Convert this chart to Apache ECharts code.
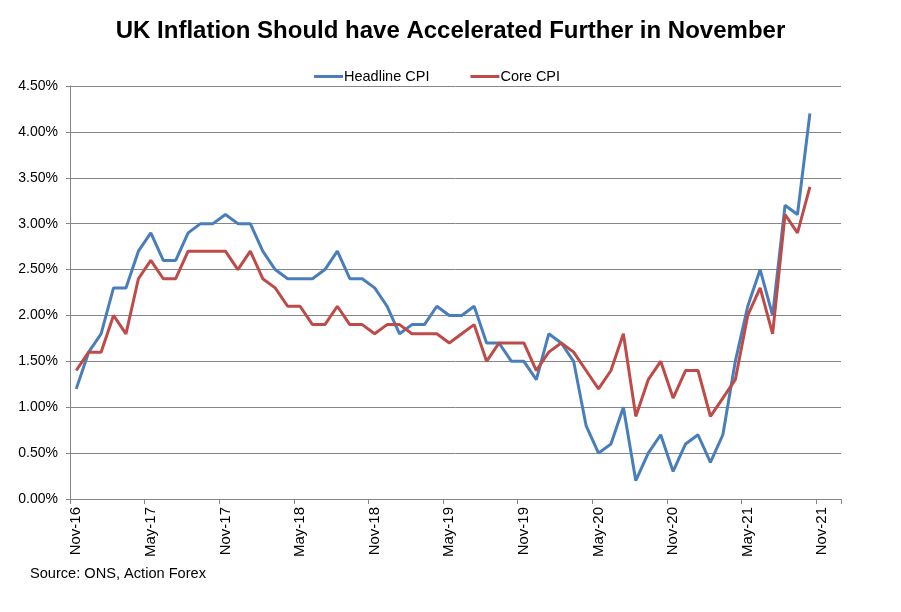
<!DOCTYPE html>
<html>
<head>
<meta charset="utf-8">
<script src="https://cdn.jsdelivr.net/npm/echarts@6/dist/echarts.min.js"></script>
<style>
html,body{margin:0;padding:0;background:#fff;}
#c{width:901px;height:612px;}
</style>
</head>
<body>
<div id="c"></div>
<script>
var months = [
 'Nov-16','Dec-16',
 'Jan-17','Feb-17','Mar-17','Apr-17','May-17','Jun-17','Jul-17','Aug-17','Sep-17','Oct-17','Nov-17','Dec-17',
 'Jan-18','Feb-18','Mar-18','Apr-18','May-18','Jun-18','Jul-18','Aug-18','Sep-18','Oct-18','Nov-18','Dec-18',
 'Jan-19','Feb-19','Mar-19','Apr-19','May-19','Jun-19','Jul-19','Aug-19','Sep-19','Oct-19','Nov-19','Dec-19',
 'Jan-20','Feb-20','Mar-20','Apr-20','May-20','Jun-20','Jul-20','Aug-20','Sep-20','Oct-20','Nov-20','Dec-20',
 'Jan-21','Feb-21','Mar-21','Apr-21','May-21','Jun-21','Jul-21','Aug-21','Sep-21','Oct-21','Nov-21','Dec-21'
];
var headlineCPI = [
 1.2,1.6,
 1.8,2.3,2.3,2.7,2.9,2.6,2.6,2.9,3.0,3.0,3.1,3.0,
 3.0,2.7,2.5,2.4,2.4,2.4,2.5,2.7,2.4,2.4,2.3,2.1,
 1.8,1.9,1.9,2.1,2.0,2.0,2.1,1.7,1.7,1.5,1.5,1.3,
 1.8,1.7,1.5,0.8,0.5,0.6,1.0,0.2,0.5,0.7,0.3,0.6,
 0.7,0.4,0.7,1.5,2.1,2.5,2.0,3.2,3.1,4.2
];
var coreCPI = [
 1.4,1.6,
 1.6,2.0,1.8,2.4,2.6,2.4,2.4,2.7,2.7,2.7,2.7,2.5,
 2.7,2.4,2.3,2.1,2.1,1.9,1.9,2.1,1.9,1.9,1.8,1.9,
 1.9,1.8,1.8,1.8,1.7,1.8,1.9,1.5,1.7,1.7,1.7,1.4,
 1.6,1.7,1.6,1.4,1.2,1.4,1.8,0.9,1.3,1.5,1.1,1.4,
 1.4,0.9,1.1,1.3,2.0,2.3,1.8,3.1,2.9,3.4
];
var yTicks = {min:0, max:4.5, interval:0.5};

var chart = echarts.init(document.getElementById('c'), null, {renderer:'canvas'});
var font = 'Arial, "Liberation Sans", sans-serif';
chart.setOption({
  animation:false,
  backgroundColor:'#ffffff',
  title:[{
    text:'UK Inflation Should have Accelerated Further in November',
    left:'center', top:14,
    textStyle:{fontFamily:font, fontSize:24, fontWeight:'bold', color:'#000'}
  },{
    text:'Source: ONS, Action Forex',
    left:30, top:566, padding:0,
    textStyle:{fontFamily:font, fontSize:14.6, fontWeight:'normal', color:'#000'}
  }],
  legend:{
    left:309, top:64,
    itemWidth:29, itemHeight:3, itemGap:41,
    icon:'rect',
    textStyle:{fontFamily:font, fontSize:14.5, color:'#000', padding:[0,0,0,-4]},
    data:['Headline CPI','Core CPI']
  },
  grid:{left:70, right:60, top:86, bottom:113},
  xAxis:{
    type:'category',
    data:months,
    boundaryGap:true,
    axisLine:{lineStyle:{color:'#868686', width:1}},
    axisTick:{show:true, interval:function(i){return i%6===0;}, length:5, lineStyle:{color:'#868686'}},
    axisLabel:{interval:5, rotate:90, margin:8, fontFamily:font, fontSize:15, color:'#000'},
    splitLine:{show:false}
  },
  yAxis:{
    type:'value',
    min:yTicks.min, max:yTicks.max, interval:yTicks.interval,
    axisLine:{show:true, lineStyle:{color:'#868686', width:1}},
    axisTick:{show:true, length:4, lineStyle:{color:'#868686'}},
    axisLabel:{margin:12, fontFamily:font, fontSize:14, color:'#000',
      formatter:function(v){return v.toFixed(2)+'%';}},
    splitLine:{show:true, lineStyle:{color:'#868686', width:1}}
  },
  series:[{
    name:'Headline CPI', type:'line', data:headlineCPI,
    symbol:'none', lineStyle:{color:'#4a7ebb', width:3}, itemStyle:{color:'#4a7ebb'}
  },{
    name:'Core CPI', type:'line', data:coreCPI,
    symbol:'none', lineStyle:{color:'#be4b48', width:3}, itemStyle:{color:'#be4b48'}
  }]
});
</script>
</body>
</html>
